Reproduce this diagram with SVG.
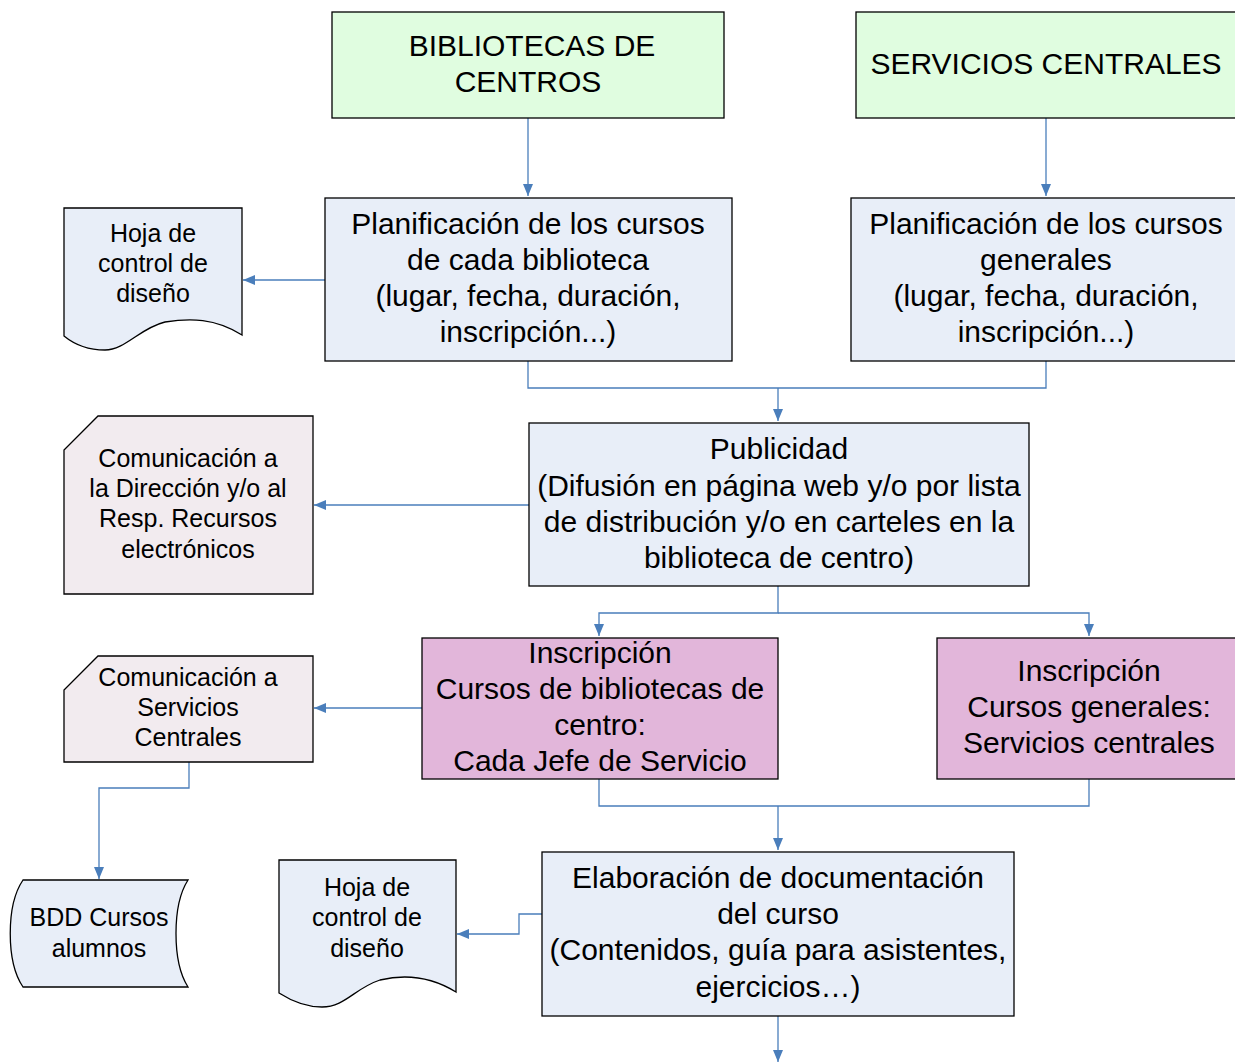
<svg xmlns="http://www.w3.org/2000/svg" width="1235" height="1063" viewBox="0 0 1235 1063">
<style>
text{font-family:"Liberation Sans",Arial,sans-serif;fill:#000;text-anchor:middle}
.big{font-size:30px}
.sm{font-size:25px}
.box{stroke:#000;stroke-width:1.3}
.green{fill:#e0fde0}
.blue{fill:#e8eef8}
.pink{fill:#f2ebef}
.mag{fill:#e2b6da}
.c{fill:none;stroke:#4a7ebb;stroke-width:1.3}
</style>
<defs>
<marker id="ah" viewBox="0 0 12 10" refX="12" refY="5" markerWidth="12" markerHeight="10" markerUnits="userSpaceOnUse" orient="auto">
<path d="M0,0 L12,5 L0,10 Z" fill="#4a7ebb"/>
</marker>
</defs>
<g id="connectors">
<path class="c" d="M528,118 V196" marker-end="url(#ah)"/>
<path class="c" d="M1046,118 V196" marker-end="url(#ah)"/>
<path class="c" d="M325,280 H243" marker-end="url(#ah)"/>
<path class="c" d="M528,361 V388 H1046 V361"/>
<path class="c" d="M778,388 V421" marker-end="url(#ah)"/>
<path class="c" d="M529,505 H314" marker-end="url(#ah)"/>
<path class="c" d="M778,586 V613 H599 V636" marker-end="url(#ah)"/>
<path class="c" d="M778,613 H1089 V636" marker-end="url(#ah)"/>
<path class="c" d="M422,708 H314" marker-end="url(#ah)"/>
<path class="c" d="M189,762 V788 H99 V879" marker-end="url(#ah)"/>
<path class="c" d="M599,779 V806 H1089 V779"/>
<path class="c" d="M778,806 V850" marker-end="url(#ah)"/>
<path class="c" d="M547,914 H519 V934 H457" marker-end="url(#ah)"/>
<path class="c" d="M778,1016 V1062" marker-end="url(#ah)"/>
</g>
<g id="n_bibliotecas">
<rect class="box green" x="332" y="12" width="392" height="106"/>
<text class="big" x="532" y="56">BIBLIOTECAS DE</text>
<text class="big" x="528" y="92">CENTROS</text>
</g>
<g id="n_servicios">
<rect class="box green" x="856" y="12" width="390" height="106"/>
<text class="big" x="1046" y="74">SERVICIOS CENTRALES</text>
</g>
<g id="n_plan1">
<rect class="box blue" x="325" y="198" width="407" height="163"/>
<text class="big" x="528" y="234">Planificación de los cursos</text>
<text class="big" x="528" y="270">de cada biblioteca</text>
<text class="big" x="528" y="306">(lugar, fecha, duración,</text>
<text class="big" x="528" y="342">inscripción...)</text>
</g>
<g id="n_plan2">
<rect class="box blue" x="851" y="198" width="395" height="163"/>
<text class="big" x="1046" y="234">Planificación de los cursos</text>
<text class="big" x="1046" y="270">generales</text>
<text class="big" x="1046" y="306">(lugar, fecha, duración,</text>
<text class="big" x="1046" y="342">inscripción...)</text>
</g>
<g id="n_hoja1">
<path class="box blue" d="M64,208 H242 V335 C215,318 190,318 165,322 C140,328 125,350 105,350 C90,350 75,345 64,336 Z"/>
<text class="sm" x="153" y="242">Hoja de</text>
<text class="sm" x="153" y="272">control de</text>
<text class="sm" x="153" y="302">diseño</text>
</g>
<g id="n_publicidad">
<rect class="box blue" x="529" y="423" width="500" height="163"/>
<text class="big" x="779" y="459">Publicidad</text>
<text class="big" x="779" y="496">(Difusión en página web y/o por lista</text>
<text class="big" x="779" y="532">de distribución y/o en carteles en la</text>
<text class="big" x="779" y="568">biblioteca de centro)</text>
</g>
<g id="n_com1">
<path class="box pink" d="M98,416 H313 V594 H64 V450 Z"/>
<text class="sm" x="188" y="467">Comunicación a</text>
<text class="sm" x="188" y="497">la Dirección y/o al</text>
<text class="sm" x="188" y="527">Resp. Recursos</text>
<text class="sm" x="188" y="558">electrónicos</text>
</g>
<g id="n_insc1">
<rect class="box mag" x="422" y="638" width="356" height="141"/>
<text class="big" x="600" y="663">Inscripción</text>
<text class="big" x="600" y="699">Cursos de bibliotecas de</text>
<text class="big" x="600" y="735">centro:</text>
<text class="big" x="600" y="771">Cada Jefe de Servicio</text>
</g>
<g id="n_insc2">
<rect class="box mag" x="937" y="638" width="309" height="141"/>
<text class="big" x="1089" y="681">Inscripción</text>
<text class="big" x="1089" y="717">Cursos generales:</text>
<text class="big" x="1089" y="753">Servicios centrales</text>
</g>
<g id="n_com2">
<path class="box pink" d="M98,656 H313 V762 H64 V690 Z"/>
<text class="sm" x="188" y="686">Comunicación a</text>
<text class="sm" x="188" y="716">Servicios</text>
<text class="sm" x="188" y="746">Centrales</text>
</g>
<g id="n_bdd">
<path class="box blue" d="M23,880 H188 C172,905 172,962 188,987 H23 C6,962 6,905 23,880 Z"/>
<text class="sm" x="99" y="926">BDD Cursos</text>
<text class="sm" x="99" y="957">alumnos</text>
</g>
<g id="n_hoja2">
<path class="box blue" d="M279,860 H456 V992 C430,976 405,974 380,980 C355,988 345,1007 322,1007 C305,1007 290,1000 279,993 Z"/>
<text class="sm" x="367" y="896">Hoja de</text>
<text class="sm" x="367" y="926">control de</text>
<text class="sm" x="367" y="957">diseño</text>
</g>
<g id="n_elab">
<rect class="box blue" x="542" y="852" width="472" height="164"/>
<text class="big" x="778" y="888">Elaboración de documentación</text>
<text class="big" x="778" y="924">del curso</text>
<text class="big" x="778" y="960">(Contenidos, guía para asistentes,</text>
<text class="big" x="778" y="997">ejercicios…)</text>
</g>
</svg>
